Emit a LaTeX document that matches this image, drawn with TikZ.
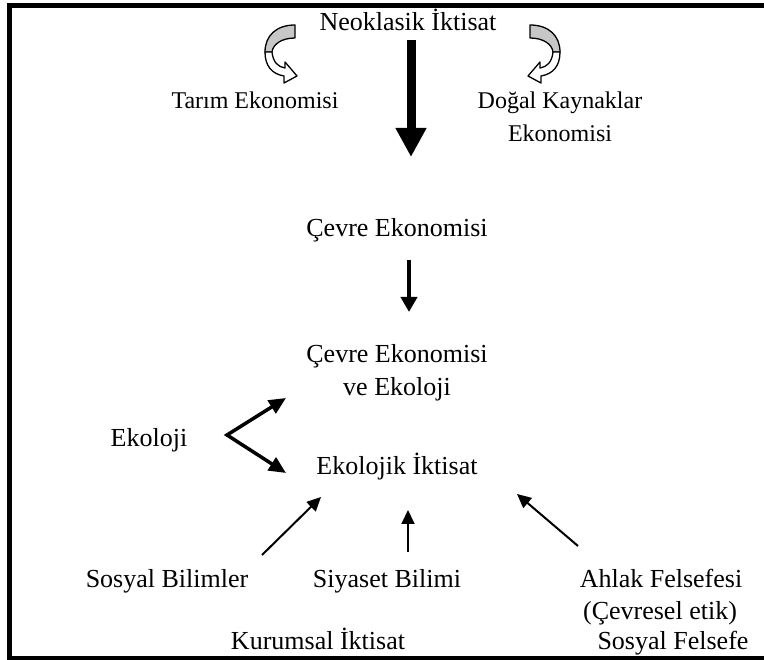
\documentclass[tikz,border=0pt]{standalone}
\usepackage{fontspec}
\setmainfont{Liberation Serif}
\usetikzlibrary{arrows.meta}

\tikzset{
  lbl/.style={anchor=base, inner sep=0pt, font=\fontsize{26}{31}\selectfont},
  sublbl/.style={anchor=base, inner sep=0pt, font=\fontsize{24}{29}\selectfont},
  bigarrow/.style={line width=9pt, -{Triangle[length=29pt,width=29pt]}},
  midarrow/.style={line width=4pt, -{Triangle[length=15pt,width=16pt]}},
  forkarrow/.style={line width=3.5pt, miter limit=20,
    {Triangle[length=17pt,width=15pt]}-{Triangle[length=17pt,width=15pt]}},
  thinarrow/.style={line width=2pt, -{Triangle[length=14pt,width=13pt]}},
  ribbon/.style={draw=black, line width=1.3pt, line join=round},
  curvedarrow/.pic={
    % back face of the ribbon
    \path[ribbon, fill=black!22]
      (0,0) .. controls (-19,0) and (-30,11) .. (-30,27)
      -- (-23,27) .. controls (-22,19) and (-13,13) .. (0,13) -- cycle;
    % front face with the arrow head
    \path[ribbon, fill=white]
      (-30,27) .. controls (-30,41) and (-23,49) .. (-11,51)
      -- (-11,58) -- (2,51) -- (-10,37) -- (-10,43)
      .. controls (-17,42) and (-22,37) .. (-23,27) -- cycle;
  }
}

\begin{document}
\begin{tikzpicture}[x=1pt, y=-1pt]
  \useasboundingbox (0,0) rectangle (764,660);
  \clip (0,0) rectangle (764,660);

  % frame
  \draw[line width=5pt] (790,5.5) -- (9.5,5.5) -- (9.5,658) -- (790,658);

  % labels
  \node[lbl]    (neo)  at (408,31)  {Neoklasik İktisat};
  \node[sublbl] (tar)  at (255,109) {Tarım Ekonomisi};
  \node[sublbl] (dkA)  at (560,109) {Doğal Kaynaklar};
  \node[sublbl] (dkB)  at (560,142) {Ekonomisi};
  \node[lbl]    (cev)  at (397,237) {Çevre Ekonomisi};
  \node[lbl]    (ceA)  at (397,363) {Çevre Ekonomisi};
  \node[lbl]    (ceB)  at (397,396) {ve Ekoloji};
  \node[lbl]    (eko)  at (149,447) {Ekoloji};
  \node[lbl]    (eki)  at (397,475) {Ekolojik İktisat};
  \node[lbl]    (sos)  at (167,587) {Sosyal Bilimler};
  \node[lbl]    (siy)  at (387,587) {Siyaset Bilimi};
  \node[lbl]    (ahA)  at (661,587) {Ahlak Felsefesi};
  \node[lbl]    (ahB)  at (660,619) {(Çevresel etik)};
  \node[lbl]    (kur)  at (318,649) {Kurumsal İktisat};
  \node[lbl]    (sof)  at (673,649) {Sosyal Felsefe};

  % connector end points
  \coordinate (bigS) at (411,40);
  \coordinate (bigE) at (411,157);
  \coordinate (midS) at (409,260);
  \coordinate (midE) at (409,312);
  \coordinate (fork) at (227,435);
  \coordinate (forkU) at (286,398);
  \coordinate (forkD) at (286,473);
  \coordinate (sosS) at (262,555);
  \coordinate (sosE) at (321,497);
  \coordinate (siyS) at (408,552);
  \coordinate (siyE) at (408,510);
  \coordinate (ahlS) at (578,546);
  \coordinate (ahlE) at (517,494);

  % arrows
  \draw[bigarrow] (bigS) -- (bigE);
  \draw[midarrow] (midS) -- (midE);
  \draw[forkarrow] (forkU) -- (fork) -- (forkD);
  \draw[thinarrow] (sosS) -- (sosE);
  \draw[thinarrow] (siyS) -- (siyE);
  \draw[thinarrow] (ahlS) -- (ahlE);

  % curved block arrows beside the title
  \pic at (295,25) {curvedarrow};
  \pic[xscale=-1] at (530,25) {curvedarrow};
\end{tikzpicture}
\end{document}
